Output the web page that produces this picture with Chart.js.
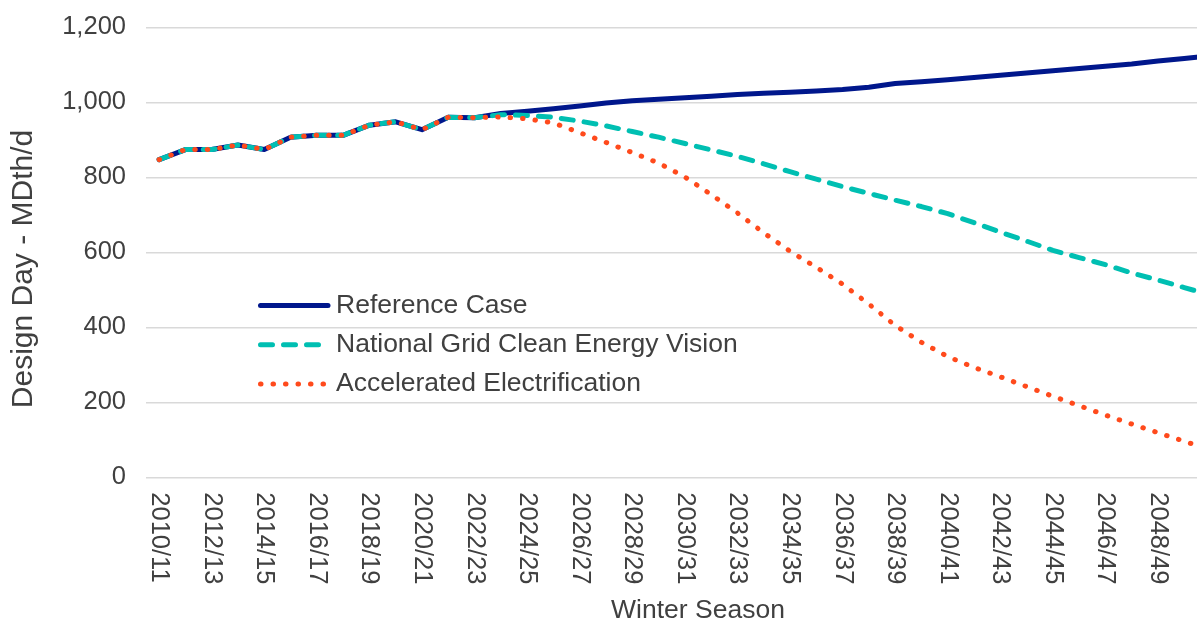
<!DOCTYPE html>
<html>
<head>
<meta charset="utf-8">
<title>Design Day Forecast</title>
<script src="https://cdn.jsdelivr.net/npm/chart.js@4.4.1/dist/chart.umd.min.js"></script>
<style>
  html, body { margin: 0; padding: 0; background: #ffffff; overflow: hidden; }
  #frame { position: relative; width: 1197px; height: 622px; overflow: hidden; }
  #frame canvas { position: absolute; left: 0; top: 0; }
</style>
</head>
<body>
<div id="frame"><canvas id="designDay" width="1250" height="622"></canvas></div>
<script>
// Winter seasons on the category axis
const seasons = [
  '2010/11','2011/12','2012/13','2013/14','2014/15','2015/16','2016/17','2017/18',
  '2018/19','2019/20','2020/21','2021/22','2022/23','2023/24','2024/25','2025/26',
  '2026/27','2027/28','2028/29','2029/30','2030/31','2031/32','2032/33','2033/34',
  '2034/35','2035/36','2036/37','2037/38','2038/39','2039/40','2040/41','2041/42',
  '2042/43','2043/44','2044/45','2045/46','2046/47','2047/48','2048/49','2049/50',
  '2050/51','2051/52'
];

// Design day requirement, MDth/d
const referenceCase = [
  847, 874, 874, 886, 874, 907, 912, 912, 939, 948, 927, 960, 959, 970, 976, 983,
  990, 998, 1004, 1008, 1012, 1016, 1021, 1024, 1027, 1030, 1034, 1040, 1050, 1055,
  1060, 1066, 1072, 1078, 1084, 1090, 1096, 1102, 1110, 1117, 1124
];
const cleanEnergyVision = [
  847, 874, 874, 886, 874, 907, 912, 912, 939, 948, 927, 960, 959, 967, 965, 960,
  950, 937, 922, 907, 890, 873, 856, 836, 815, 795, 775, 757, 739, 722,
  703, 679, 654, 630, 605, 586, 567, 545, 526, 506, 486
];
const acceleratedElectrification = [
  847, 874, 874, 886, 874, 907, 912, 912, 939, 948, 927, 960, 959, 961, 956, 945,
  919, 893, 866, 838, 801, 754, 705, 652, 603, 560, 515, 462, 405, 360,
  322, 293, 268, 242, 216, 191, 166, 142, 119, 96, 73
];

// Value axis
const yMin = 0;
const yMax = 1200;
const yStep = 200;
const yTitle = 'Design Day - MDth/d';
const xTitle = 'Winter Season';

const TEXT = '#404040';
const GRID = '#d9d9d9';
const FONT = '"Liberation Sans", Arial, Helvetica, sans-serif';

// Season labels read top-to-bottom, every second season
const seasonLabels = {
  id: 'seasonLabels',
  afterDraw(chart, args, opts) {
    const xs = chart.scales.x;
    const ctx = chart.ctx;
    ctx.save();
    ctx.font = opts.size + 'px ' + FONT;
    ctx.fillStyle = TEXT;
    ctx.textAlign = 'left';
    ctx.textBaseline = 'middle';
    seasons.forEach((s, i) => {
      if (i % 2 !== 0) return;
      const px = xs.getPixelForValue(i);
      ctx.save();
      ctx.translate(px, chart.chartArea.bottom + opts.gap);
      ctx.rotate(Math.PI / 2);
      ctx.fillText(s, 0, 0);
      ctx.restore();
    });
    ctx.restore();
  }
};

// Value-axis caption, rotated to read upwards
const valueCaption = {
  id: 'valueCaption',
  afterDraw(chart, args, opts) {
    const ctx = chart.ctx;
    ctx.save();
    ctx.font = opts.size + 'px ' + FONT;
    ctx.fillStyle = TEXT;
    ctx.textAlign = 'center';
    ctx.textBaseline = 'middle';
    ctx.translate(opts.x, opts.y);
    ctx.rotate(-Math.PI / 2);
    ctx.fillText(yTitle, 0, 0);
    ctx.restore();
  }
};

// Series key drawn inside the plot, using each dataset's own stroke style
const seriesKey = {
  id: 'seriesKey',
  afterDatasetsDraw(chart, args, opts) {
    const ctx = chart.ctx;
    const order = chart.data.datasets.slice().sort((a, b) => a.keyRow - b.keyRow);
    order.forEach((ds, r) => {
      const y = opts.top + r * opts.rowGap;
      ctx.save();
      ctx.strokeStyle = ds.borderColor;
      ctx.lineWidth = ds.borderWidth;
      ctx.lineCap = ds.borderCapStyle || 'butt';
      ctx.setLineDash(ds.borderDash || []);
      ctx.beginPath();
      ctx.moveTo(opts.lineStart, y);
      ctx.lineTo(opts.lineEnd, y);
      ctx.stroke();
      ctx.setLineDash([]);
      ctx.font = opts.size + 'px ' + FONT;
      ctx.fillStyle = TEXT;
      ctx.textAlign = 'left';
      ctx.textBaseline = 'middle';
      ctx.fillText(ds.label, opts.textX, y);
      ctx.restore();
    });
  }
};

new Chart(document.getElementById('designDay'), {
  type: 'line',
  data: {
    labels: seasons,
    datasets: [
      {
        label: 'Reference Case',
        data: referenceCase,
        borderColor: '#00178c',
        borderWidth: 5,
        borderCapStyle: 'round',
        borderJoinStyle: 'round',
        pointRadius: 0,
        tension: 0,
        order: 3,
        keyRow: 0
      },
      {
        label: 'National Grid Clean Energy Vision',
        data: cleanEnergyVision,
        borderColor: '#00bfb2',
        borderWidth: 5,
        borderDash: [12, 11],
        borderCapStyle: 'round',
        borderJoinStyle: 'round',
        pointRadius: 0,
        tension: 0,
        order: 2,
        keyRow: 1
      },
      {
        label: 'Accelerated Electrification',
        data: acceleratedElectrification,
        borderColor: '#ff4a1c',
        borderWidth: 5,
        borderDash: [0.5, 12],
        borderCapStyle: 'round',
        borderJoinStyle: 'round',
        pointRadius: 0,
        tension: 0,
        order: 1,
        keyRow: 2
      }
    ]
  },
  options: {
    responsive: false,
    animation: false,
    devicePixelRatio: 1,
    layout: { padding: { top: 27.3, left: 0, right: 0, bottom: 0 } },
    plugins: {
      legend: { display: false },
      tooltip: { enabled: false },
      seasonLabels: { size: 25.5, gap: 15 },
      valueCaption: { size: 30, x: 24, y: 269 },
      seriesKey: { lineStart: 260.5, lineEnd: 328, textX: 336, top: 305.5, rowGap: 39.3, size: 26.5 }
    },
    scales: {
      x: {
        type: 'category',
        offset: true,
        grid: { display: false },
        border: { display: false },
        ticks: { display: false },
        title: {
          display: true,
          text: xTitle,
          color: TEXT,
          font: { family: FONT, size: 26.5, lineHeight: 0.84 },
          padding: { top: 0, bottom: 0 }
        },
        afterFit(scale) { scale.height = 144.7; }
      },
      y: {
        min: yMin,
        max: yMax,
        grid: { color: GRID, lineWidth: 1.5, drawTicks: false },
        border: { display: false },
        ticks: {
          stepSize: yStep,
          padding: 20,
          color: TEXT,
          font: { family: FONT, size: 25.5, lineHeight: 0.4 },
          callback: v => v.toLocaleString('en-US')
        },
        title: { display: false },
        afterFit(scale) { scale.width = 146; }
      }
    }
  },
  plugins: [seasonLabels, valueCaption, seriesKey]
});
</script>
</body>
</html>
